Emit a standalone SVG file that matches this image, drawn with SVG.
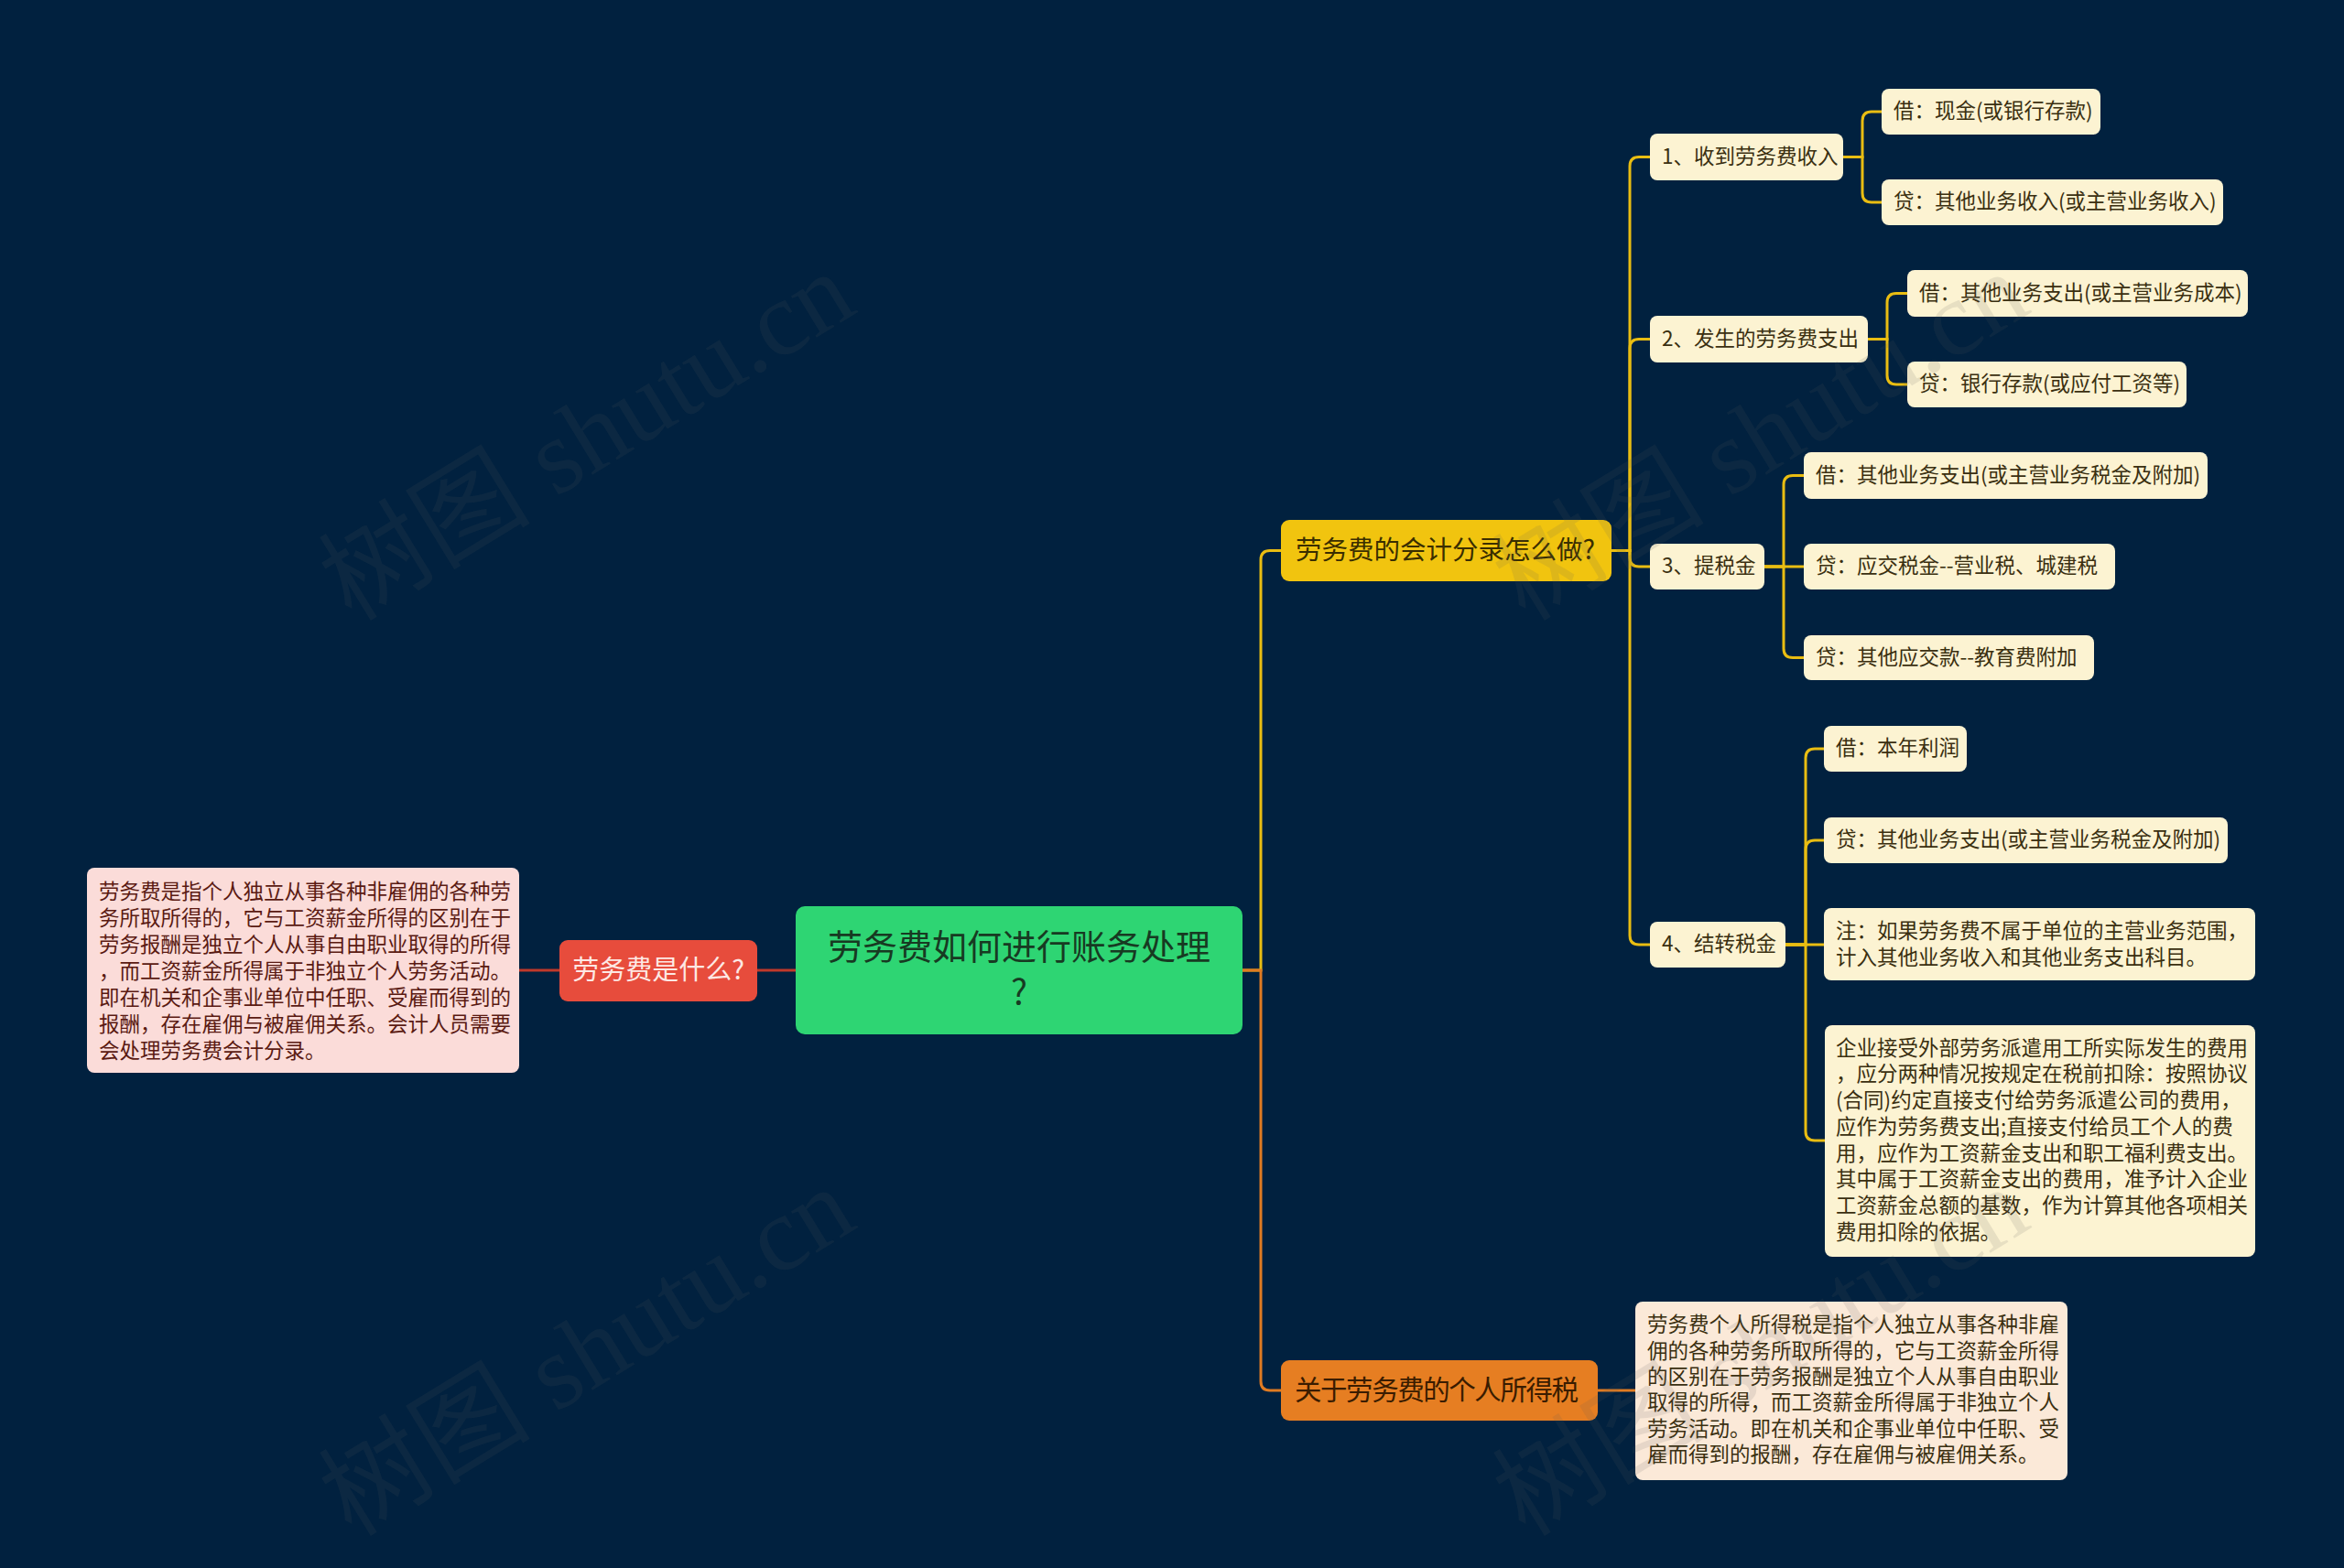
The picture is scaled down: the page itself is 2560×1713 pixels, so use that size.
<svg xmlns="http://www.w3.org/2000/svg" width="2560" height="1713" viewBox="0 0 2560 1713">
<style>
text{font-family:"Noto Sans CJK SC","Noto Sans",sans-serif;}
.c{fill:#fcf3d2;}
.ct{font-size:22.5px;fill:#3a2f10;dominant-baseline:central;}
.ln{fill:none;stroke-width:3;stroke-linecap:round;}
.y{stroke:#e9bd12;}
.o{stroke:#e07b22;}
.r{stroke:#c0392b;}
.wm{font-family:"Liberation Serif","Noto Sans CJK SC",serif;font-size:116px;fill:#5a5a5a;fill-opacity:0.13;}
</style>
<rect width="2560" height="1713" fill="#01213f"/>

<g id="connectors">
<path class="ln r" d="M869 1060 H827"/>
<path class="ln r" d="M611 1060 H567"/>
<path class="ln y" d="M1357 1060 H1377 V611.5 Q1377 601.5 1387 601.5 H1399"/>
<path class="ln o" d="M1357 1060 H1377 V1509 Q1377 1519 1387 1519 H1399"/>
<path class="ln o" d="M1745 1519 H1786"/>
<path class="ln y" d="M1760 601.5 H1780 V181.5 Q1780 171.5 1790 171.5 H1802"/>
<path class="ln y" d="M1760 601.5 H1780 V380.5 Q1780 370.5 1790 370.5 H1802"/>
<path class="ln y" d="M1760 601.5 H1780 V609 Q1780 619 1790 619 H1802"/>
<path class="ln y" d="M1760 601.5 H1780 V1022 Q1780 1032 1790 1032 H1802"/>
<path class="ln y" d="M2013 171.5 H2034 V132 Q2034 122 2044 122 H2055"/>
<path class="ln y" d="M2013 171.5 H2034 V211 Q2034 221 2044 221 H2055"/>
<path class="ln y" d="M2040 370.5 H2061 V330.5 Q2061 320.5 2071 320.5 H2083"/>
<path class="ln y" d="M2040 370.5 H2061 V410 Q2061 420 2071 420 H2083"/>
<path class="ln y" d="M1927 619 H1948 V529.5 Q1948 519.5 1958 519.5 H1970"/>
<path class="ln y" d="M1927 619 H1970"/>
<path class="ln y" d="M1927 619 H1948 V708.5 Q1948 718.5 1958 718.5 H1970"/>
<path class="ln y" d="M1950 1032 H1972 V828 Q1972 818 1982 818 H1992"/>
<path class="ln y" d="M1950 1032 H1972 V928 Q1972 918 1982 918 H1992"/>
<path class="ln y" d="M1950 1032 H1992"/>
<path class="ln y" d="M1950 1032 H1972 V1236 Q1972 1246 1982 1246 H1993"/>
</g>

<g id="root">
<rect x="869" y="990" width="488" height="140" rx="10" fill="#2ed573"/>
<text x="1113" y="1031" font-size="38" fill="#173a22" text-anchor="middle" dominant-baseline="central">劳务费如何进行账务处理</text>
<text x="1113" y="1081" font-size="38" fill="#173a22" text-anchor="middle" dominant-baseline="central">?</text>
</g>

<g id="what">
<rect x="611" y="1027" width="216" height="67" rx="9" fill="#e74c3c"/>
<text x="719" y="1057" font-size="29" fill="#fde8e4" text-anchor="middle" dominant-baseline="central">劳务费是什么?</text>
</g>

<g id="what-desc">
<rect x="95" y="948" width="472" height="224" rx="8" fill="#fbdcd9"/>
<text class="ct" style="fill:#5a1a12">
<tspan x="108" y="972">劳务费是指个人独立从事各种非雇佣的各种劳</tspan>
<tspan x="108" y="1001">务所取所得的，它与工资薪金所得的区别在于</tspan>
<tspan x="108" y="1030">劳务报酬是独立个人从事自由职业取得的所得</tspan>
<tspan x="108" y="1059">，而工资薪金所得属于非独立个人劳务活动。</tspan>
<tspan x="108" y="1088">即在机关和企事业单位中任职、受雇而得到的</tspan>
<tspan x="108" y="1117">报酬，存在雇佣与被雇佣关系。会计人员需要</tspan>
<tspan x="108" y="1146">会处理劳务费会计分录。</tspan>
</text>
</g>

<g id="entries">
<rect x="1399" y="568" width="361" height="67" rx="9" fill="#f1c40f"/>
<text x="1415" y="598.5" font-size="28.5" fill="#3a2e00" dominant-baseline="central">劳务费的会计分录怎么做?</text>
</g>

<g id="tax">
<rect x="1399" y="1486" width="346" height="66" rx="9" fill="#e67e22"/>
<text x="1414" y="1516" font-size="29.5" fill="#3a1c00" dominant-baseline="central" textLength="310" lengthAdjust="spacing">关于劳务费的个人所得税</text>
</g>

<g id="tax-desc">
<rect x="1786" y="1422" width="472" height="195" rx="8" fill="#fbe9d8"/>
<text class="ct">
<tspan x="1799" y="1445.3">劳务费个人所得税是指个人独立从事各种非雇</tspan>
<tspan x="1799" y="1473.6">佣的各种劳务所取所得的，它与工资薪金所得</tspan>
<tspan x="1799" y="1501.9">的区别在于劳务报酬是独立个人从事自由职业</tspan>
<tspan x="1799" y="1530.2">取得的所得，而工资薪金所得属于非独立个人</tspan>
<tspan x="1799" y="1558.5">劳务活动。即在机关和企事业单位中任职、受</tspan>
<tspan x="1799" y="1586.8">雇而得到的报酬，存在雇佣与被雇佣关系。</tspan>
</text>
</g>

<g id="step1">
<rect class="c" x="1802" y="146" width="211" height="51" rx="8"/>
<text class="ct" x="1815" y="168.5">1、收到劳务费收入</text>
</g>
<g id="step1-debit">
<rect class="c" x="2055" y="97" width="239" height="50" rx="8"/>
<text class="ct" x="2068" y="119">借：现金(或银行存款)</text>
</g>
<g id="step1-credit">
<rect class="c" x="2055" y="196" width="373" height="50" rx="8"/>
<text class="ct" x="2068" y="218">贷：其他业务收入(或主营业务收入)</text>
</g>

<g id="step2">
<rect class="c" x="1802" y="345" width="238" height="51" rx="8"/>
<text class="ct" x="1815" y="367.5">2、发生的劳务费支出</text>
</g>
<g id="step2-debit">
<rect class="c" x="2083" y="295" width="372" height="51" rx="8"/>
<text class="ct" x="2096" y="317.5">借：其他业务支出(或主营业务成本)</text>
</g>
<g id="step2-credit">
<rect class="c" x="2083" y="395" width="305" height="50" rx="8"/>
<text class="ct" x="2096" y="417">贷：银行存款(或应付工资等)</text>
</g>

<g id="step3">
<rect class="c" x="1802" y="594" width="125" height="50" rx="8"/>
<text class="ct" x="1815" y="616">3、提税金</text>
</g>
<g id="step3-debit">
<rect class="c" x="1970" y="494" width="441" height="51" rx="8"/>
<text class="ct" x="1983" y="516.5">借：其他业务支出(或主营业务税金及附加)</text>
</g>
<g id="step3-credit1">
<rect class="c" x="1970" y="594" width="340" height="50" rx="8"/>
<text class="ct" x="1983" y="616">贷：应交税金--营业税、城建税</text>
</g>
<g id="step3-credit2">
<rect class="c" x="1970" y="694" width="317" height="49" rx="8"/>
<text class="ct" x="1983" y="715.5">贷：其他应交款--教育费附加</text>
</g>

<g id="step4">
<rect class="c" x="1802" y="1007" width="148" height="50" rx="8"/>
<text class="ct" x="1815" y="1029">4、结转税金</text>
</g>
<g id="step4-debit">
<rect class="c" x="1992" y="793" width="156" height="50" rx="8"/>
<text class="ct" x="2005" y="815">借：本年利润</text>
</g>
<g id="step4-credit">
<rect class="c" x="1992" y="893" width="441" height="50" rx="8"/>
<text class="ct" x="2005" y="915">贷：其他业务支出(或主营业务税金及附加)</text>
</g>
<g id="step4-note">
<rect class="c" x="1992" y="992" width="471" height="79" rx="8"/>
<text class="ct">
<tspan x="2005" y="1015">注：如果劳务费不属于单位的主营业务范围，</tspan>
<tspan x="2005" y="1044">计入其他业务收入和其他业务支出科目。</tspan>
</text>
</g>
<g id="step4-dispatch">
<rect class="c" x="1993" y="1120" width="470" height="253" rx="8"/>
<text class="ct">
<tspan x="2005" y="1142.7">企业接受外部劳务派遣用工所实际发生的费用</tspan>
<tspan x="2005" y="1171.4">，应分两种情况按规定在税前扣除：按照协议</tspan>
<tspan x="2005" y="1200.1">(合同)约定直接支付给劳务派遣公司的费用，</tspan>
<tspan x="2005" y="1228.8">应作为劳务费支出;直接支付给员工个人的费</tspan>
<tspan x="2005" y="1257.5">用，应作为工资薪金支出和职工福利费支出。</tspan>
<tspan x="2005" y="1286.2">其中属于工资薪金支出的费用，准予计入企业</tspan>
<tspan x="2005" y="1314.9">工资薪金总额的基数，作为计算其他各项相关</tspan>
<tspan x="2005" y="1343.6">费用扣除的依据。</tspan>
</text>
</g>

<g id="watermarks">
<text class="wm" transform="translate(384 680) rotate(-31.5)">树图 shutu.cn</text>
<text class="wm" transform="translate(384 1680) rotate(-31.5)">树图 shutu.cn</text>
<text class="wm" transform="translate(1666 680) rotate(-31.5)">树图 shutu.cn</text>
<text class="wm" transform="translate(1666 1680) rotate(-31.5)">树图 shutu.cn</text>
</g>
</svg>
